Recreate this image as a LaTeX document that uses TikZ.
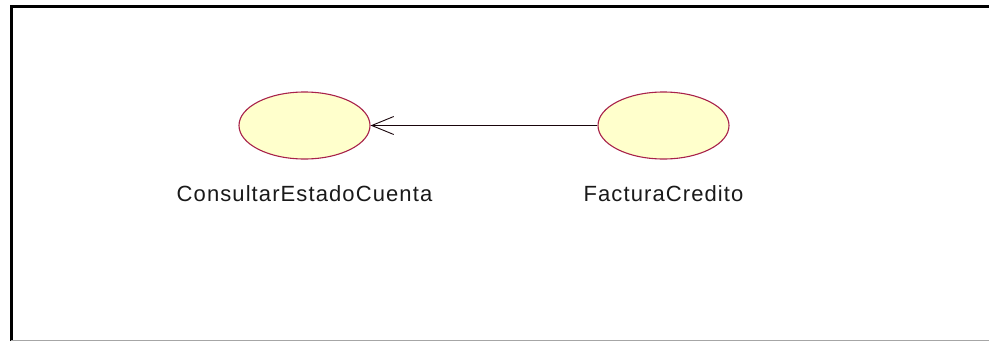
\documentclass[tikz,border=0pt]{standalone}
\usepackage{fontspec}
\newfontfamily\lblfont[LetterSpace=5]{Liberation Sans}
\usetikzlibrary{shapes.geometric,arrows.meta}
\definecolor{ucfill}{HTML}{FFFFCC}
\definecolor{ucdraw}{HTML}{A8224A}
\begin{document}
\begin{tikzpicture}[x=1pt,y=-1pt,
  usecase/.style={ellipse,draw=ucdraw,fill=ucfill,line width=1.1pt,minimum width=131pt,minimum height=67pt,inner sep=0pt},
  uclabel/.style={anchor=base,font=\lblfont\fontsize{22}{26}\selectfont,text=black!90,inner sep=0pt},
  dep/.style={draw=black!85!ucdraw,line width=0.9pt,-{Straight Barb[length=22pt,width=18pt,line width=0.9pt]}}]
\useasboundingbox (0,0) rectangle (989,341);
\fill[white] (0,0) rectangle (989,341);
% frame
\draw[line width=3pt,black] (11.5,341) -- (11.5,6.5) -- (989,6.5);
\draw[line width=1pt,black!35] (11,340) -- (989,340);
% use cases
\node[usecase] (consultar) at (304.5,125.5) {};
\node[usecase] (factura) at (663.5,125.5) {};
\node[uclabel] (consultarlbl) at (304.5,201) {ConsultarEstadoCuenta};
\node[uclabel] (facturalbl) at (663.5,201) {FacturaCredito};
\draw[dep] (factura) -- (consultar);
\end{tikzpicture}
\end{document}
